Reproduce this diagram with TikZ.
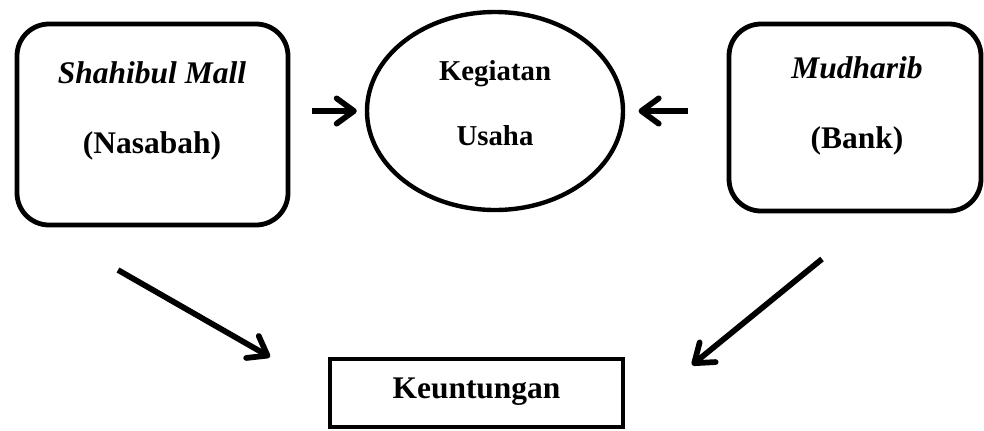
\documentclass[tikz,border=0pt]{standalone}
\usepackage{fontspec}
\setmainfont{Liberation Serif}
\usetikzlibrary{arrows.meta,shapes.geometric}
\tikzset{
  boxline/.style={draw=black,line width=3.6pt,inner sep=0pt},
  rbox/.style={boxline,rectangle,rounded corners=24pt},
  txt/.style={anchor=base,inner sep=0pt,font=\fontsize{23.6}{28}\selectfont\bfseries},
  txtit/.style={txt,font=\fontsize{23.6}{28}\selectfont\bfseries\itshape},
  txtsm/.style={txt,font=\fontsize{21.6}{26}\selectfont\bfseries},
  arr/.style={line width=4.3pt,-{Straight Barb[length=13pt,width=19pt,round]}}
}
\begin{document}
\begin{tikzpicture}[x=0.75pt,y=-0.75pt]
\useasboundingbox (0,0) rectangle (984,430);
% shapes
\node[rbox,minimum width=203.25pt,minimum height=150.75pt] (lbox) at (152.5,124.5) {};
\node[rbox,minimum width=189pt,minimum height=140.25pt] (rbox) at (855,117.5) {};
\node[boxline,line width=3.3pt,ellipse,minimum width=192pt,minimum height=148.5pt] (ell) at (495,111) {};
\node[boxline,rectangle,minimum width=219.75pt,minimum height=51pt] (kbox) at (476.5,393) {};
% texts
\node[txtit] (t1) at (152,83) {Shahibul Mall};
\node[txt] (t2) at (152,153) {(Nasabah)};
\node[txtit] (t3) at (857,78) {Mudharib};
\node[txt] (t4) at (857,148) {(Bank)};
\node[txtsm] (t5) at (495,80) {Kegiatan};
\node[txtsm] (t6) at (495,145) {Usaha};
\node[txt] (t7) at (476.5,398) {Keuntungan};
% connectors
\coordinate (d1a) at (118,270);
\coordinate (d1b) at (270,357);
\coordinate (d2a) at (822,259);
\coordinate (d2b) at (692,365);
\draw[arr,shorten <=16.5pt,shorten >=6pt] (lbox.east |- ell.west) -- (ell.west);
\draw[arr,shorten <=29pt,shorten >=10pt] (rbox.west |- ell.east) -- (ell.east);
\draw[arr] (d1a) -- (d1b);
\draw[arr] (d2a) -- (d2b);
\end{tikzpicture}
\end{document}
